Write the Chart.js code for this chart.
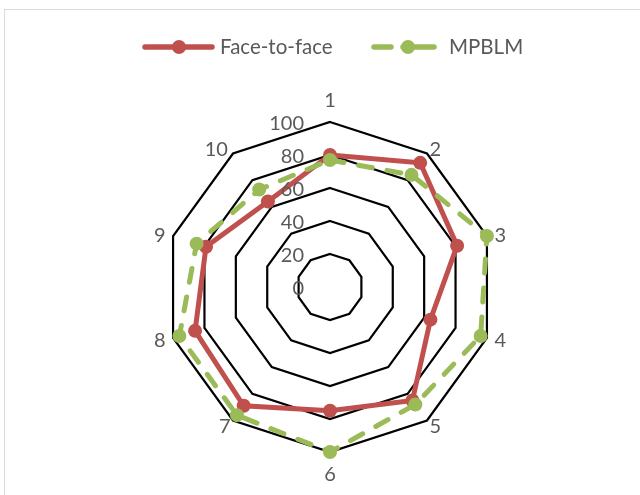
<!DOCTYPE html>
<html>
<head>
<meta charset="utf-8">
<script src="https://cdn.jsdelivr.net/npm/chart.js@4.4.1/dist/chart.umd.min.js"></script>
<style>
  html, body { margin: 0; padding: 0; background: #ffffff; }
  #wrap { position: relative; width: 640px; height: 495px; overflow: hidden; }
  #frame { position: absolute; left: 4px; top: 9px; width: 700px; height: 600px;
           border-left: 1px solid #d9d9d9; border-top: 1px solid #d9d9d9; pointer-events: none; }
  canvas { position: absolute; left: 0; top: 0; }
</style>
</head>
<body>
<div id="wrap">
  <canvas id="c" width="640" height="495"></canvas>
  <div id="frame"></div>
</div>
<script>
// Items on the radar, in clockwise order from the top
const categories = ['1', '2', '3', '4', '5', '6', '7', '8', '9', '10'];
// Scores per item
const faceToFace = [80, 93, 81, 64, 85, 75, 89, 86, 79, 64];
const mpblm      = [77, 84, 100, 96, 88, 100, 96, 96, 85, 73];
// Radial axis tick labels
const tickValues = [0, 20, 40, 60, 80, 100];

const RED = '#C0504D';
const GREEN = '#9BBB59';
const GREY = '#595959';
const FONT = 'Lato, "Open Sans", sans-serif';

// Tick labels just left of the vertical axis, right-aligned
const tickLabelPlugin = {
  id: 'tickLabels',
  afterDatasetsDraw(chart) {
    const r = chart.scales.r;
    const ctx = chart.ctx;
    ctx.save();
    ctx.font = '20px ' + FONT;
    ctx.fillStyle = GREY;
    ctx.textAlign = 'right';
    ctx.textBaseline = 'middle';
    tickValues.forEach(v => {
      const d = r.getDistanceFromCenterForValue(v);
      ctx.fillText(String(v), r.xCenter - 26, r.yCenter - d + 2);
    });
    ctx.restore();
  }
};

// Category labels around the outer ring: pushed further out sideways for
// wide labels and further out vertically at the top and bottom spokes
const categoryLabelPlugin = {
  id: 'categoryLabels',
  afterDraw(chart) {
    const r = chart.scales.r;
    const ctx = chart.ctx;
    ctx.save();
    ctx.font = '20px ' + FONT;
    ctx.fillStyle = GREY;
    ctx.textAlign = 'center';
    ctx.textBaseline = 'middle';
    const hw0 = ctx.measureText('0').width / 2;
    const R = r.drawingArea;
    chart.data.labels.forEach((lab, i) => {
      const a = r.getIndexAngle(i);
      const s = Math.sin(a), c = Math.cos(a);
      const hw = ctx.measureText(lab).width / 2;
      const dx = R + 14 + (hw - hw0) * 2.5;
      const dy = R + 4.3 + 17.7 * Math.pow(Math.abs(c), 12);
      ctx.fillText(lab, r.xCenter + s * dx, r.yCenter - c * dy + 1);
    });
    ctx.restore();
  }
};

// Line-and-marker legend across the top
const legendPlugin = {
  id: 'lineLegend',
  afterDraw(chart) {
    const ctx = chart.ctx;
    const y = 47;
    const ds = chart.data.datasets;
    const items = [
      { label: ds[0].label, color: RED, segs: [[145, 212]], mark: 179, text: 220 },
      { label: ds[1].label, color: GREEN, segs: [[374, 391], [403, 434]], mark: 408, text: 449 }
    ];
    ctx.save();
    items.forEach(it => {
      ctx.strokeStyle = it.color;
      ctx.lineWidth = 5.5;
      ctx.lineCap = 'round';
      it.segs.forEach(sg => {
        ctx.beginPath();
        ctx.moveTo(sg[0], y);
        ctx.lineTo(sg[1], y);
        ctx.stroke();
      });
      ctx.fillStyle = it.color;
      ctx.beginPath();
      ctx.arc(it.mark, y, 7, 0, Math.PI * 2);
      ctx.fill();
      ctx.font = '20.5px ' + FONT;
      ctx.fillStyle = GREY;
      ctx.textAlign = 'left';
      ctx.textBaseline = 'middle';
      ctx.fillText(it.label, it.text, y);
    });
    ctx.restore();
  }
};

new Chart(document.getElementById('c'), {
  type: 'radar',
  data: {
    labels: categories,
    datasets: [
      {
        label: 'Face-to-face',
        data: faceToFace,
        borderColor: RED,
        backgroundColor: RED,
        pointBackgroundColor: RED,
        pointBorderColor: RED,
        borderWidth: 5,
        pointRadius: 7,
        pointBorderWidth: 0,
        fill: false,
        order: 2
      },
      {
        label: 'MPBLM',
        data: mpblm,
        borderColor: GREEN,
        backgroundColor: GREEN,
        pointBackgroundColor: GREEN,
        pointBorderColor: GREEN,
        borderWidth: 5,
        borderDash: [14, 15],
        borderCapStyle: 'round',
        pointRadius: 7,
        pointBorderWidth: 0,
        fill: false,
        order: 1
      }
    ]
  },
  options: {
    responsive: false,
    animation: false,
    layout: { padding: { top: 122, bottom: 43, left: 20, right: 0 } },
    plugins: {
      legend: { display: false },
      tooltip: { enabled: false }
    },
    scales: {
      r: {
        min: 0,
        max: 100,
        ticks: { stepSize: 20, display: false },
        grid: { color: '#000000', lineWidth: 2.2 },
        angleLines: { display: false },
        pointLabels: { display: false }
      }
    }
  },
  plugins: [tickLabelPlugin, categoryLabelPlugin, legendPlugin]
});
</script>
</body>
</html>
